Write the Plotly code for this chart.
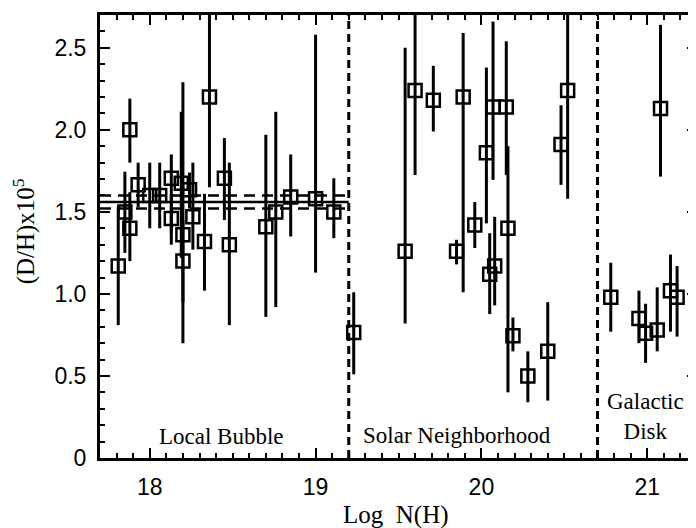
import plotly.graph_objects as go

# ---- data ----
log_nh = [17.81, 17.85, 17.88, 17.88, 17.93, 18.00, 18.06, 18.13, 18.13, 18.19,
          18.20, 18.20, 18.24, 18.26, 18.33, 18.36, 18.45, 18.48, 18.70, 18.76,
          18.85, 19.00, 19.11,
          19.23, 19.54, 19.60, 19.71, 19.85, 19.89, 19.96, 20.03, 20.07, 20.15,
          20.16, 20.05, 20.08, 20.19, 20.28, 20.40, 20.48, 20.52,
          20.78, 20.95, 20.99, 21.06, 21.08, 21.14, 21.18]
dh = [1.17, 1.50, 1.40, 2.00, 1.665, 1.60, 1.60, 1.705, 1.46, 1.675,
      1.36, 1.20, 1.635, 1.47, 1.32, 2.20, 1.705, 1.30, 1.41, 1.50,
      1.59, 1.58, 1.50,
      0.765, 1.26, 2.24, 2.18, 1.26, 2.20, 1.42, 1.86, 2.14, 2.14,
      1.40, 1.12, 1.17, 0.745, 0.50, 0.65, 1.91, 2.24,
      0.98, 0.85, 0.76, 0.78, 2.13, 1.02, 0.98]
dh_upper = [1.53, 1.745, 1.62, 2.19, 1.80, 1.80, 1.80, 1.85, 1.60, 2.11,
            2.29, 1.45, 1.74, 1.80, 1.61, 2.90, 1.95, 1.80, 1.97, 2.11,
            1.85, 2.58, 1.705,
            1.01, 2.50, 2.90, 2.39, 1.33, 2.59, 1.56, 2.38, 2.66, 2.54,
            1.90, 1.37, 1.47, 0.856, 0.65, 0.95, 2.15, 2.90,
            1.19, 1.02, 0.94, 1.04, 2.64, 1.24, 1.17]
dh_lower = [0.81, 1.25, 1.20, 1.80, 1.53, 1.40, 1.40, 1.37, 1.30, 1.22,
            0.70, 0.95, 1.52, 1.27, 1.02, 1.65, 1.45, 0.81, 0.86, 0.92,
            1.35, 1.13, 1.34,
            0.51, 0.82, 1.725, 1.99, 1.18, 1.01, 1.28, 1.43, 1.695, 1.725,
            0.40, 0.877, 0.93, 0.65, 0.34, 0.35, 1.665, 1.58,
            0.77, 0.70, 0.58, 0.65, 1.715, 0.77, 0.74]

region_bounds = [19.2, 20.7]
lb_mean = 1.56
lb_err = 0.04
region_names = ["Local Bubble", "Solar Neighborhood", "Galactic<br>Disk"]
x_ticks = [18, 19, 20, 21]
y_ticks = [0, 0.5, 1.0, 1.5, 2.0, 2.5]
y_tick_text = ["0", "0.5", "1.0", "1.5", "2.0", "2.5"]

x_range = [17.7, 21.3]
y_range = [0, 2.7]

err_plus = [u - v for u, v in zip(dh_upper, dh)]
err_minus = [v - l for v, l in zip(dh, dh_lower)]

fig = go.Figure()

# mean D/H of the Local Bubble with its uncertainty
fig.add_trace(go.Scatter(x=[x_range[0], region_bounds[0]], y=[lb_mean, lb_mean],
                         mode="lines", line=dict(color="black", width=2.5),
                         showlegend=False, hoverinfo="skip"))
for off in (-lb_err, lb_err):
    fig.add_trace(go.Scatter(x=[x_range[0], region_bounds[0]],
                             y=[lb_mean + off, lb_mean + off],
                             mode="lines",
                             line=dict(color="black", width=2.5, dash="11px,7px"),
                             showlegend=False, hoverinfo="skip"))

fig.add_trace(go.Scatter(
    x=log_nh, y=dh, mode="markers",
    marker=dict(symbol="square-open", size=13, color="black",
                line=dict(width=2.5, color="black")),
    error_y=dict(type="data", symmetric=False, array=err_plus,
                 arrayminus=err_minus, color="black", thickness=3, width=0),
    showlegend=False))

for b in region_bounds:
    fig.add_vline(x=b, line=dict(color="black", width=3, dash="8px,5px"))

serif = "Liberation Serif, Times New Roman, serif"
sans = "Liberation Sans, Arial, sans-serif"

label_pos = [(18.43, 0.13), (19.85, 0.14), (20.99, 0.255)]
for name, (lx, ly) in zip(region_names, label_pos):
    fig.add_annotation(x=lx, y=ly, text=name, showarrow=False,
                       font=dict(family=serif, size=23, color="black"),
                       xanchor="center", yanchor="middle")

fig.add_annotation(xref="paper", yref="paper", x=0.495, y=-0.128,
                   text="Log\u00a0\u00a0N(H)", showarrow=False,
                   font=dict(family=serif, size=25, color="black"),
                   xanchor="center", yanchor="middle")
fig.add_annotation(xref="paper", yref="paper", x=-0.127, y=0.512,
                   text="(D/H)x10<sup>5</sup>", showarrow=False, textangle=-90,
                   font=dict(family=serif, size=25, color="black"),
                   xanchor="center", yanchor="middle")

fig.update_layout(
    width=696, height=528,
    margin=dict(l=92, r=4, t=5, b=78),
    paper_bgcolor="white", plot_bgcolor="white",
    xaxis=dict(range=x_range, tickvals=x_ticks, ticks="inside", ticklen=10,
               tickwidth=2, tickcolor="black", showline=True, linewidth=3,
               linecolor="black", mirror="ticks", showgrid=False, zeroline=False,
               tickfont=dict(family=sans, size=23, color="black"),
               ticklabelstandoff=6,
               minor=dict(dtick=0.1, ticks="inside", ticklen=5, tickwidth=2,
                          tickcolor="black", showgrid=False)),
    yaxis=dict(range=y_range, tickvals=y_ticks, ticktext=y_tick_text,
               ticks="inside", ticklen=10, tickwidth=2, tickcolor="black",
               showline=True, linewidth=3, linecolor="black", mirror="ticks",
               showgrid=False, zeroline=False,
               tickfont=dict(family=sans, size=23, color="black"),
               ticklabelstandoff=6,
               minor=dict(dtick=0.1, ticks="inside", ticklen=5, tickwidth=2,
                          tickcolor="black", showgrid=False)),
)

fig.write_html("out.html")
